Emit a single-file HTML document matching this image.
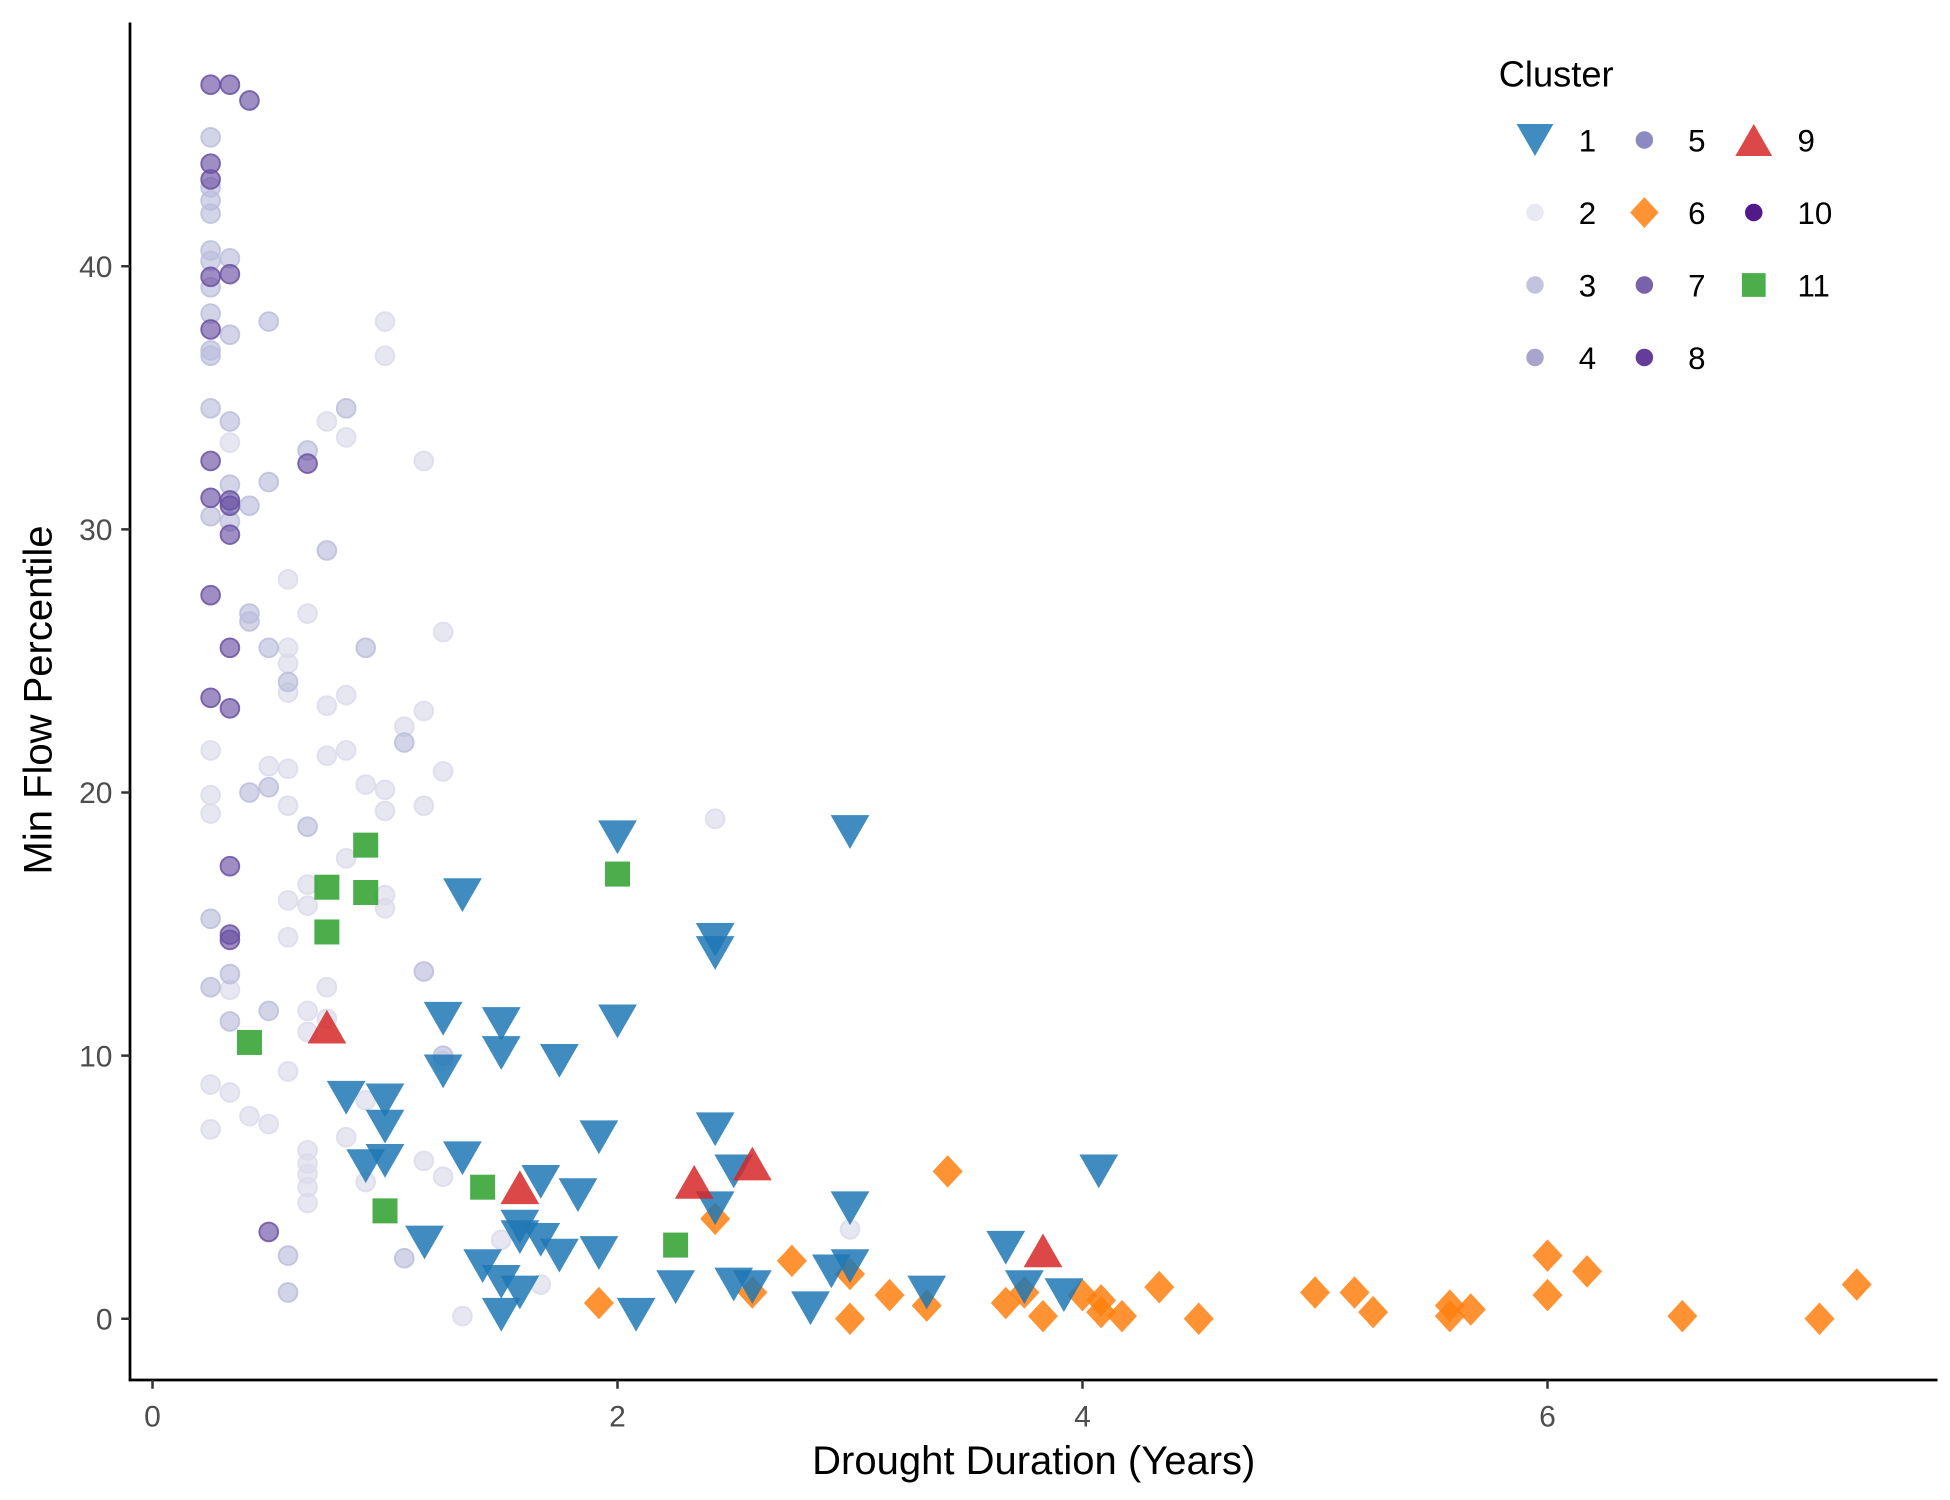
<!DOCTYPE html>
<html><head><meta charset="utf-8"><style>
html,body{margin:0;padding:0;background:#fff;}
svg{display:block;font-family:"Liberation Sans",Arial,sans-serif;}
</style></head><body>
<svg id="chart" width="1950" height="1500" viewBox="0 0 1560 1200" xmlns="http://www.w3.org/2000/svg">
<rect width="1560" height="1200" fill="#fff"/>
<g id="marks"></g>
<line x1="104" y1="18" x2="104" y2="1105" stroke="#000" stroke-width="2.2"/>
<line x1="103" y1="1104" x2="1550" y2="1104" stroke="#000" stroke-width="2.2"/>
<g id="axes"></g>
<text x="827" y="1179" font-size="32" text-anchor="middle">Drought Duration (Years)</text>
<text transform="translate(41,560) rotate(-90)" font-size="32" text-anchor="middle">Min Flow Percentile</text>
<g id="legend">
<text x="1199" y="69" font-size="29">Cluster</text>
</g>
</svg>
<script>
const clusterIds=[1,2,3,4,5,6,7,8,9,10,11];
const c1x=[1.333,2,3,2.42,2.42,1.25,1.5,2,1.5,1.75,0.833,1,1.25,1,1.92,2.42,1.333,0.917,1,1.67,1.83,2.5,2.42,3,1.58,1.58,1.67,1.17,1.75,1.42,1.92,1.5,1.58,1.5,2.08,2.25,2.5,2.58,2.83,2.92,3,3.33,3.67,3.75,3.92,4.07];
const c1y=[16.1,18.3,18.5,14.4,13.9,11.4,11.2,11.3,10.1,9.8,8.4,8.3,9.4,7.3,6.9,7.2,6.1,5.8,6.0,5.2,4.7,5.6,4.2,4.2,3.5,3.1,3.0,2.9,2.4,2.0,2.5,1.4,1.0,0.15,0.15,1.2,1.3,1.2,0.4,1.8,2.0,1.0,2.7,1.2,0.9,5.6];
const c9x=[0.75,1.58,2.33,2.58,3.83];
const c9y=[11.1,5.0,5.2,5.9,2.6];
const c11x=[0.917,0.75,0.917,0.75,2,0.417,1,1.42,2.25];
const c11y=[18.0,16.4,16.2,14.7,16.9,10.5,4.1,5.0,2.8];
const c6x=[3.42,2.42,2.75,3,1.92,2.58,3,3.17,3.33,3.67,3.75,3.83,4,4.08,4.08,4.17,4.33,4.5,5,5.17,5.25,5.58,5.58,5.67,6,6,6.17,6.58,7.17,7.33];
const c6y=[5.6,3.8,2.2,1.7,0.6,1.0,0,0.9,0.5,0.6,1.0,0.1,0.9,0.7,0.25,0.1,1.2,0,1.0,1.0,0.25,0.5,0.1,0.35,2.4,0.9,1.8,0.1,0,1.3];
const c7x=[0.25,0.25,0.25,0.25,0.25,0.25,0.25,0.25,0.25,0.333,0.333,0.333,0.333,0.333,0.333,0.333,0.333,0.333,0.333,0.417,0.667,0.5];
const c7y=[46.9,43.9,43.3,39.6,37.6,32.6,31.2,27.5,23.6,46.9,39.7,31.1,30.9,29.8,25.5,23.2,17.2,14.6,14.4,46.3,32.5,3.3];
const c3x=[0.25,0.25,0.25,0.25,0.25,0.25,0.25,0.25,0.25,0.25,0.25,0.25,0.25,0.25,0.333,0.333,0.333,0.333,0.333,0.333,0.333,0.417,0.417,0.417,0.417,0.5,0.5,0.5,0.5,0.5,0.583,0.583,0.583,0.667,0.667,0.75,0.833,0.917,1.083,1.083,1.167,1.25];
const c3y=[44.9,43.0,42.5,42.0,40.6,40.2,39.2,38.2,36.8,36.6,34.6,30.5,15.2,12.6,40.3,37.4,34.1,31.7,30.3,13.1,11.3,30.9,26.8,26.5,20.0,37.9,31.8,25.5,20.2,11.7,24.2,2.4,1.0,33.0,18.7,29.2,34.6,25.5,21.9,2.3,13.2,10.0];
const c2x=[0.25,0.25,0.25,0.25,0.25,0.333,0.333,0.333,0.417,0.5,0.5,0.583,0.583,0.583,0.583,0.583,0.583,0.583,0.583,0.583,0.667,0.667,0.667,0.667,0.667,0.667,0.667,0.667,0.667,0.667,0.75,0.75,0.75,0.75,0.75,0.833,0.833,0.833,0.833,0.833,0.917,0.917,0.917,1,1,1,1,1,1,1.083,1.167,1.167,1.167,1.167,1.25,1.25,1.25,1.25,1.333,1.5,1.67,2.42,3];
const c2y=[21.6,19.9,19.2,8.9,7.2,33.3,8.6,12.5,7.7,7.4,21.0,28.1,25.5,24.9,23.8,20.9,19.5,15.9,14.5,9.4,26.8,16.5,15.7,11.7,10.9,6.4,5.9,5.5,5.0,4.4,34.1,23.3,21.4,12.6,11.4,33.5,23.7,21.6,17.5,6.9,20.3,8.3,5.2,37.9,36.6,20.1,19.3,16.1,15.6,22.5,32.6,23.1,19.5,6.0,26.1,20.8,9.8,5.4,0.1,3.0,1.3,19.0,3.4];
const xTicks=[0,2,4,6];
const yTicks=[0,10,20,30,40];

const NS="http://www.w3.org/2000/svg";
const X=v=>122+v*186;
const Y=v=>1055-v*21.05;
const colors={1:"#1f77b4",2:"#dadaeb",3:"#bcbddc",4:"#9e9ac8",5:"#807dba",6:"#ff7f0e",7:"#6a51a3",8:"#54278f",9:"#d62728",10:"#3f007d",11:"#2ca02c"};
function mk(tag,attrs,parent){const e=document.createElementNS(NS,tag);for(const k in attrs)e.setAttribute(k,attrs[k]);parent.appendChild(e);return e;}
function shape(kind,cx,cy,col,parent,sc){
  sc=sc||1;let e;
  if(kind==="circle"){e=mk("circle",{cx:cx,cy:cy,r:7.5*sc,fill:col,"fill-opacity":0.65,stroke:col,"stroke-opacity":0.85,"stroke-width":1.5},parent);}
  else if(kind==="down"){const w=15.5*sc,h=13.5*sc;e=mk("polygon",{points:`${cx-w},${cy-h} ${cx+w},${cy-h} ${cx},${cy+h}`,fill:col,"fill-opacity":0.85},parent);}
  else if(kind==="up"){const w=15.5*sc,h=13.5*sc;e=mk("polygon",{points:`${cx-w},${cy+h} ${cx+w},${cy+h} ${cx},${cy-h}`,fill:col,"fill-opacity":0.85},parent);}
  else if(kind==="diamond"){const w=12*sc,h=13*sc;e=mk("polygon",{points:`${cx},${cy-h} ${cx+w},${cy} ${cx},${cy+h} ${cx-w},${cy}`,fill:col,"fill-opacity":0.85},parent);}
  else {const s=10*sc;e=mk("rect",{x:cx-s,y:cy-s,width:2*s,height:2*s,fill:col,"fill-opacity":0.85},parent);}
  return e;
}
const marks=document.getElementById("marks");
const series=[[2,c2x,c2y,"circle"],[3,c3x,c3y,"circle"],[7,c7x,c7y,"circle"],[6,c6x,c6y,"diamond"],[11,c11x,c11y,"square"],[1,c1x,c1y,"down"],[9,c9x,c9y,"up"]];
series.forEach(s=>{
  const g=mk("g",{},marks);
  
  
  s[1].forEach((xv,i)=>{
    const e=shape(s[3],X(xv),Y(s[2][i]),colors[s[0]],g);
    
    
  });
});
const axes=document.getElementById("axes");
xTicks.forEach(t=>{
  const l=mk("line",{x1:X(t),x2:X(t),y1:1104,y2:1111,stroke:"#333","stroke-width":2},axes);
  
  
  const tx=mk("text",{x:X(t),y:1141,"font-size":24,"text-anchor":"middle",fill:"#4d4d4d"},axes);
  tx.textContent=t;
  
  
});
yTicks.forEach(t=>{
  const l=mk("line",{x1:97,x2:104,y1:Y(t),y2:Y(t),stroke:"#333","stroke-width":2},axes);
  
  
  const tx=mk("text",{x:90,y:Y(t)+8.5,"font-size":24,"text-anchor":"end",fill:"#4d4d4d"},axes);
  tx.textContent=t;
  
  
});
const legend=document.getElementById("legend");
const legKinds={1:"down",6:"diamond",9:"up",11:"square"};
clusterIds.forEach((id,i)=>{
  const col=Math.floor(i/4),row=i%4;
  const sx=1228+col*87.5, sy=112+row*58;
  const g=mk("g",{},legend);
  
  
  const k=legKinds[id]||"circle";
  if(k==="circle"){mk("circle",{cx:sx,cy:sy,r:7,fill:colors[id],"fill-opacity":id===2?0.6:0.9},g);}
  else shape(k,sx,sy,colors[id],g,0.95);
  const tx=mk("text",{x:sx+35,y:sy+9,"font-size":25},g);
  tx.textContent=id;
});
</script>
</body></html>
